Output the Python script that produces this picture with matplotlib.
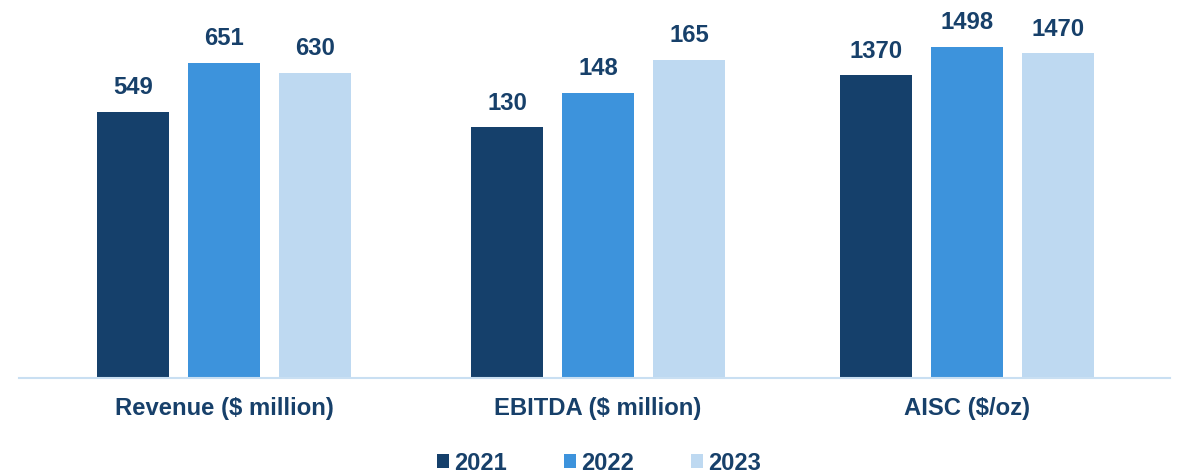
import matplotlib
matplotlib.use("Agg")
import matplotlib.pyplot as plt
from matplotlib.patches import Patch
from matplotlib.lines import Line2D

plt.rcParams['font.family'] = ['Liberation Sans', 'DejaVu Sans']

categories = ["Revenue ($ million)", "EBITDA ($ million)", "AISC ($/oz)"]
years = ["2021", "2022", "2023"]
revenue = [549, 651, 630]
ebitda = [130, 148, 165]
aisc = [1370, 1498, 1470]
series = [revenue, ebitda, aisc]
ymax = [780, 196, 1710]

colors = ["#15406b", "#3d93dc", "#bed9f1"]
text_color = "#17406a"

W, H = 1180, 473
fig = plt.figure(figsize=(W / 100, H / 100), dpi=100)

centers = [224, 598, 967]
half = 186.5
bottom_px = 95
for i, (cat, vals) in enumerate(zip(categories, series)):
    ax = fig.add_axes([(centers[i] - half) / W, bottom_px / H, 2 * half / W, (H - bottom_px) / H])
    ax.set_facecolor('none')
    xs = [-1, 0, 1]
    ax.bar(xs, vals, width=0.8, color=colors)
    ax.set_xlim(-2.05, 2.05)
    ax.set_ylim(0, ymax[i])
    for x, v in zip(xs, vals):
        ax.annotate(str(v), (x, v), xytext=(0, 9), textcoords='offset points',
                    ha='center', va='bottom', fontsize=17.2, fontweight='bold', color=text_color)
    ax.text(0, -0.082, cat, transform=ax.get_xaxis_transform(), ha='center', va='center',
            fontsize=17.2, fontweight='bold', color=text_color)
    ax.axis('off')

fig.add_artist(Line2D([19 / W, 1170 / W], [bottom_px / H, bottom_px / H], color="#c9dff2", lw=1.5))

handles = [Patch(facecolor=c, edgecolor='none', label=y) for c, y in zip(colors, years)]
leg = fig.legend(handles=handles, loc='center', bbox_to_anchor=(0.5 + 9 / W, 10 / H), ncol=3, frameon=False,
                 handlelength=0.52, handleheight=0.52, handletextpad=0.22, columnspacing=2.4,
                 prop={'size': 17, 'weight': 'bold'})
for t in leg.get_texts():
    t.set_color(text_color)

fig.savefig("out.png", dpi=100)
